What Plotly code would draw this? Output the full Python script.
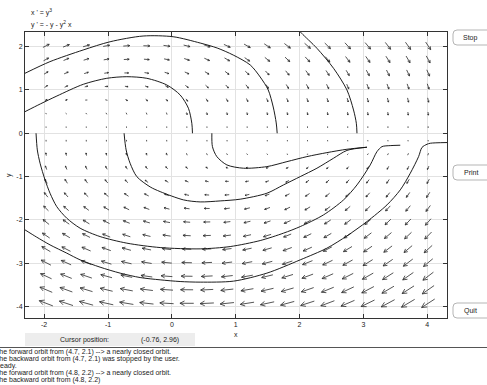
import numpy as np
import plotly.graph_objects as go

# ---------------- data ----------------
# direction-field grid (pplane 20 x 20 grid)
grid_x = np.linspace(-1.97, 4.015, 20)
grid_y = np.linspace(-3.93, 2.02, 20)

# system shown in the chart header:  x' = y^3 ,  y' = -y - y^2 x
def field(x, y):
    return y ** 3, -y - y ** 2 * x

# solution curves
orbit_a_x = [-2.30, -1.91, -1.39, -0.967, -0.45, 0.02, 0.444, 0.71, 0.961, 1.228, 1.384, 1.51, 1.588, 1.635, 1.65]
orbit_a_y = [1.386, 1.654, 1.924, 2.115, 2.247, 2.231, 2.085, 1.97, 1.808, 1.578, 1.30, 1.0, 0.607, 0.238, 0.0]

orbit_b_x = [-2.30, -2.06, -1.80, -1.386, -1.019, -0.705, -0.392, -0.078, 0.130, 0.260, 0.313, 0.323]
orbit_b_y = [0.499, 0.677, 0.861, 1.132, 1.27, 1.307, 1.27, 1.115, 0.885, 0.577, 0.231, 0.0]

orbit_c_x = [1.99, 2.033, 2.273, 2.533, 2.743, 2.846, 2.89, 2.90]
orbit_c_y = [2.38, 2.31, 1.963, 1.501, 1.0, 0.538, 0.231, 0.0]

orbit_d_x = [-2.127, -2.107, -2.064, -1.986, -1.908, -1.803, -1.646, -1.437, -1.124, -0.705, -0.183,
             0.444, 0.914, 1.384, 1.749, 2.011, 2.376, 2.690, 2.900, 3.108, 3.213, 3.292, 3.42, 3.578]
orbit_d_y = [0.0, -0.386, -0.693, -1.079, -1.386, -1.695, -1.963, -2.194, -2.388, -2.540, -2.642,
             -2.672, -2.619, -2.480, -2.309, -2.157, -1.887, -1.540, -1.194, -0.732, -0.425, -0.309, -0.286, -0.277]

orbit_e_x = [-0.748, -0.716, -0.654, -0.549, -0.34, -0.183, 0.182, 0.444, 0.757, 1.07, 1.489, 1.749,
             2.011, 2.273, 2.533, 2.743, 3.056]
orbit_e_y = [0.0, -0.386, -0.693, -1.002, -1.24, -1.349, -1.540, -1.587, -1.564, -1.524, -1.386, -1.194,
             -1.002, -0.808, -0.577, -0.397, -0.323]

orbit_f_x = [0.627, 0.636, 0.705, 0.862, 1.122, 1.489, 1.803, 2.116, 2.429, 2.743, 3.056]
orbit_f_y = [0.0, -0.309, -0.540, -0.732, -0.808, -0.771, -0.656, -0.540, -0.448, -0.370, -0.323]

orbit_g_x = [-2.30, -2.116, -1.908, -1.646, -1.437, -1.124, -0.810, -0.497, -0.183, 0.130, 0.444, 0.966,
             1.489, 2.011, 2.429, 2.743, 3.056, 3.370, 3.578, 3.735, 3.865, 3.918, 3.997, 4.049, 4.31]
orbit_g_y = [-2.233, -2.402, -2.580, -2.771, -2.926, -3.095, -3.233, -3.335, -3.388, -3.427, -3.441, -3.418,
             -3.233, -2.926, -2.656, -2.372, -2.042, -1.656, -1.309, -0.924, -0.540, -0.328, -0.254, -0.231, -0.215]

orbits = [(orbit_a_x, orbit_a_y), (orbit_b_x, orbit_b_y), (orbit_c_x, orbit_c_y),
          (orbit_d_x, orbit_d_y), (orbit_e_x, orbit_e_y), (orbit_f_x, orbit_f_y),
          (orbit_g_x, orbit_g_y)]

x_ticks = [-2, -1, 0, 1, 2, 3, 4]
y_ticks = [-4, -3, -2, -1, 0, 1, 2]

header_lines = ["x ' = y<sup>3</sup>", "y ' = - y - y<sup>2</sup> x"]
cursor_label = "Cursor position:"
cursor_value = "(-0.76, 2.96)"
messages = [
    "The forward orbit from (4.7, 2.1) --> a nearly closed orbit.",
    "The backward orbit from (4.7, 2.1) was stopped by the user.",
    "Ready.",
    "The forward orbit from (4.8, 2.2) --> a nearly closed orbit.",
    "The backward orbit from (4.8, 2.2)",
]
buttons = ["Stop", "Print", "Quit"]

# ---------------- layout geometry ----------------
W, H = 487, 385
L, R, T, B = 25, 40, 32, 67
PW, PH = W - L - R, H - T - B
XR = [-2.30, 4.31]
YR = [-4.27, 2.34]
SX = PW / (XR[1] - XR[0])
SY = PH / (YR[1] - YR[0])

def px(x):
    return (x - L) / PW

def py(y):
    return (H - B - y) / PH

# ---------------- direction field arrows ----------------
ax, ay = [], []
ang = np.radians(27)
for gx in grid_x:
    for gy in grid_y:
        vx, vy = field(gx, gy)
        m = np.hypot(vx, vy)
        ux, uy = vx * SX, vy * SY
        n = np.hypot(ux, uy)
        if n == 0:
            continue
        ux, uy = ux / n, uy / n
        Lp = min(17.0, max(1.3, 2.9 * m ** 0.38))
        hx, hy = Lp / 2 * ux, Lp / 2 * uy
        tail = (gx - hx / SX, gy - hy / SY)
        tip = (gx + hx / SX, gy + hy / SY)
        ax += [tail[0], tip[0], None]
        ay += [tail[1], tip[1], None]
        if Lp > 2.2:
            hl = max(1.4, 0.37 * Lp)
            for s in (1, -1):
                c, si = np.cos(s * ang), np.sin(s * ang)
                bx = (-ux) * c - (-uy) * si
                by = (-ux) * si + (-uy) * c
                ax += [tip[0], tip[0] + hl * bx / SX, None]
                ay += [tip[1], tip[1] + hl * by / SY, None]

fig = go.Figure()
fig.add_trace(go.Scatter(x=ax, y=ay, mode="lines", line=dict(color="#2a2a2a", width=0.8),
                         hoverinfo="skip", showlegend=False))
for ox, oy in orbits:
    fig.add_trace(go.Scatter(x=ox, y=oy, mode="lines",
                             line=dict(color="#111111", width=0.95, shape="spline", smoothing=0.8),
                             hoverinfo="skip", showlegend=False))

FONT = "Liberation Sans, Arial, sans-serif"
fig.update_layout(
    width=W, height=H, autosize=False,
    margin=dict(l=L, r=R, t=T, b=B, pad=0),
    paper_bgcolor="white", plot_bgcolor="white",
    font=dict(family=FONT, size=7, color="#222"),
    showlegend=False,
)
axis_common = dict(showgrid=True, gridcolor="#e2e2e2", gridwidth=1, zeroline=False,
                   showline=True, linecolor="#333", linewidth=1, mirror="ticks",
                   ticks="inside", ticklen=4, tickcolor="#333", tickwidth=1,
                   tickfont=dict(size=7, color="#222", family=FONT))
fig.update_xaxes(range=XR, tickvals=x_ticks, ticktext=[str(v) for v in x_ticks], **axis_common)
fig.update_yaxes(range=YR, tickvals=y_ticks, ticktext=[str(v) for v in y_ticks], **axis_common)

ann = []
ann.append(dict(x=px(29), y=py(13), text=header_lines[0]))
ann.append(dict(x=px(29), y=py(24), text=header_lines[1]))
ann.append(dict(x=px(236), y=py(334), text="x", xanchor="center"))
ann.append(dict(x=px(9), y=py(175), text="y", xanchor="center", textangle=-90))

shapes = []
# cursor band
shapes.append(dict(type="rect", xref="paper", yref="paper", x0=px(25), x1=px(195), y0=py(346), y1=py(333),
                   fillcolor="#ededed", line=dict(width=0), layer="below"))
ann.append(dict(x=px(58), y=py(339.5), text=cursor_label))
ann.append(dict(x=px(139), y=py(339.5), text=cursor_value))

# message box
shapes.append(dict(type="rect", xref="paper", yref="paper", x0=px(-5), x1=px(492), y0=py(395), y1=py(347.5),
                   fillcolor="white", line=dict(color="#555", width=1)))
for i, msg in enumerate(messages):
    ann.append(dict(x=px(-7.5), y=py(352 + 7.1 * i), text=msg))

# buttons
def rrect(x0, y0, x1, y1, r):
    X0, X1 = px(x0), px(x1)
    Y0, Y1 = py(y1), py(y0)
    rx, ry = r / PW, r / PH
    return (f"M {X0+rx},{Y0} L {X1-rx},{Y0} Q {X1},{Y0} {X1},{Y0+ry} L {X1},{Y1-ry} "
            f"Q {X1},{Y1} {X1-rx},{Y1} L {X0+rx},{Y1} Q {X0},{Y1} {X0},{Y1-ry} "
            f"L {X0},{Y0+ry} Q {X0},{Y0} {X0+rx},{Y0} Z")

for label, yc in zip(buttons, [37.5, 172.5, 310.5]):
    shapes.append(dict(type="path", xref="paper", yref="paper", path=rrect(453, yc - 7.5, 500, yc + 7.5, 4),
                       fillcolor="white", line=dict(color="#b5b5b5", width=1)))
    ann.append(dict(x=px(471), y=py(yc), text=label, xanchor="center"))

for a in ann:
    a.setdefault("xanchor", "left")
    a.update(xref="paper", yref="paper", yanchor="middle", showarrow=False,
             font=dict(family=FONT, size=7, color="#222"))
fig.update_layout(annotations=ann, shapes=shapes)

fig.write_html("out.html", config={"displayModeBar": False},
               post_script="document.body.style.margin='0px';document.body.style.overflow='hidden';")
